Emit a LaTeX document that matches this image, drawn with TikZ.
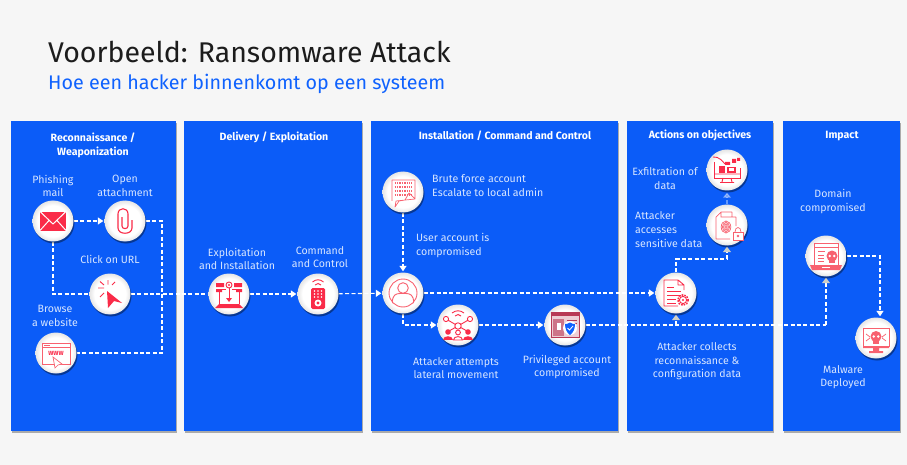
\documentclass[tikz,border=0pt]{standalone}
\usepackage{fontspec}
\setmainfont{Fira Sans}
\usetikzlibrary{arrows.meta,shadows,calc}
\definecolor{pageback}{HTML}{F6F6F6}
\definecolor{panelblue}{HTML}{0B5CF8}
\definecolor{labelblue}{HTML}{D8E6FF}
\definecolor{titleblue}{HTML}{0F62FE}
\definecolor{titleink}{HTML}{1C1C1C}
\definecolor{iconred}{HTML}{FA2B48}
\definecolor{iconpale}{HTML}{F8616F}
\definecolor{icondark}{HTML}{B83A55}
\definecolor{tipgray}{HTML}{CFCFC8}
\pgfdeclarelayer{back}\pgfdeclarelayer{conn}
\pgfsetlayers{back,conn,main}
\pgfdeclareradialshading{discfill}{\pgfpoint{0bp}{0bp}}{color(0bp)=(white);color(19bp)=(white);color(25bp)=(black!10);color(50bp)=(black!10)}
\tikzset{
  x=1pt,y=-1pt,
  panel/.style={fill=panelblue,draw=none,inner sep=0,anchor=north west,drop shadow={shadow xshift=1pt,shadow yshift=-1.5pt,opacity=.3,fill=black}},
  disc/.style={circle,minimum size=41pt,inner sep=0,shading=discfill,drop shadow={shadow xshift=1pt,shadow yshift=-2pt,opacity=.4,fill=black}},
  head/.style={text=white,font=\fontsize{10.55}{14}\selectfont\bfseries,align=center,inner sep=0},
  lab/.style={text=labelblue,font=\fontsize{10.6}{13.6}\selectfont,align=center,inner sep=0},
  labl/.style={lab,align=left,anchor=west},
  flow/.style={white,line width=1.1pt,dash pattern=on 4pt off 2.4pt},
  flowa/.style={flow,-{Triangle[length=5.5pt,width=7pt,fill=white]},shorten >=1pt},
  flowg/.style={flow,-{Triangle[length=5.5pt,width=8pt,color=tipgray,fill=tipgray]},shorten >=1pt},
  flowf/.style={white,opacity=.38,line width=1.1pt,dash pattern=on 4pt off 2.4pt,-{Triangle[length=5pt,width=8pt]},shorten >=2pt,shorten <=0pt},
  ic/.style={iconred,line width=.9pt},
  icp/.style={iconpale,line width=.7pt},
  mailicon/.pic={
    \fill[iconred] (-13,-9.5) rectangle (13,9.5);
    \draw[white,line width=1pt] (-13,-9.5) -- (0,3) -- (13,-9.5) (-13,9.5) -- (-4,-.5) (13,9.5) -- (4,-.5);},
  clipicon/.pic={
    \draw[ic,line width=1.1pt] (7,-1) -- (7,7) .. controls (7,14) and (-7,14) .. (-7,7) -- (-7,-7) .. controls (-7,-14) and (3,-14) .. (3,-7) -- (3,5) .. controls (3,8.5) and (-3,8.5) .. (-3,5) -- (-3,-4);},
  clickicon/.pic={
    \fill[iconred] (-3,-3) -- (12,9) -- (4,7) -- (-2,14) -- cycle;
    \draw[iconred,line width=.9pt] (-12,-6) -- (-6,-6) (-10,-12.5) -- (-6,-9) (-2,-14) -- (-2,-9.5) (5,-12) -- (2,-9) (-10,3) -- (-6,-1);},
  wwwicon/.pic={
    \draw[icp] (-14,-10) rectangle (14,11) (-14,-6) -- (14,-6);
    \draw[icp] (-12,-8) -- (-6,-8);
    \node[iconred,inner sep=0,font=\fontsize{6}{6}\selectfont\bfseries] (wwwtext) at (0,0) {WWW};
    \fill[white] (-3,4) -- (6,11) -- (2,12) -- (-1,15) -- cycle;
    \draw[icp] (-3,4) -- (6,11) -- (2,12) -- (-1,15) -- cycle;},
  exploiticon/.pic={
    \fill[iconred] (-10,10) -- (10,10) -- (14,14) -- (-14,14) -- cycle;
    \draw[ic] (-10,10) -- (-10,-5) -- (-3,-5) (10,10) -- (10,-5) -- (3,-5);
    \draw[ic] (0,-9) circle (3);
    \fill[iconred] (0,-9) circle (1.2);
    \draw[ic] (0,-6) -- (0,5);
    \fill[iconred] (-3,4) -- (3,4) -- (0,8) -- cycle;
    \fill[iconred] (-13,-11) rectangle (-5,-7) (5,-11) rectangle (13,-7);
    \fill[iconred] (-13,-5) rectangle (-7,-2) (7,-5) rectangle (13,-2);},
  remoteicon/.pic={
    \fill[iconred,rounded corners=1.5pt] (-7,-6) rectangle (7,15);
    \foreach \a in {-3.5,0,3.5}{\foreach \b in {-3,0,3}{\fill[white] (\a,\b) circle (.9);}}
    \fill[white] (0,9) circle (3.5);
    \fill[iconred] (0,9) circle (1.6);
    \draw[ic] (-3,-9) .. controls (-1,-11) and (1,-11) .. (3,-9) (-5.5,-12) .. controls (-2,-15) and (2,-15) .. (5.5,-12);},
  bruteicon/.pic={
    \draw[icp,line join=round] (-11,9) -- (-11,-12) -- (12,-12) -- (12,7) (12,7) -- (6,1) -- (2,8) -- (-4,9) -- (-8,15) -- (-7,9) -- cycle;
    \foreach \b in {-9,-5,-1,3}{\draw[iconpale,line width=1.6pt,dash pattern=on 1.4pt off 1pt] (-8.5,\b) -- (9,\b);}},
  usericon/.pic={
    \draw[icp,line width=.9pt] (0,0) circle (14);
    \draw[icp,line width=.9pt] (0,-5) circle (5.3);
    \draw[icp,line width=.9pt] (-10.5,10) .. controls (-11,2) and (-7,0.5) .. (-3,0.5) -- (3,0.5) .. controls (7,0.5) and (11,2) .. (10.5,10);},
  lateralicon/.pic={
    \draw[ic] (-12,-6) -- (0,1) -- (12,-6) (0,1) -- (-9,6) (0,1) -- (9,6);
    \foreach \p in {(-12,-6),(12,-6)}{\draw[ic,fill=white] \p circle (2.6);}
    \draw[ic,fill=white] (0,1) circle (3.2);
    \draw[ic] (-3,-9) .. controls (-1,-11) and (1,-11) .. (3,-9) (-6,-12) .. controls (-2,-15) and (2,-15) .. (6,-12);
    \foreach \a in {-10,10}{\fill[iconred] (\a,7) circle (2.8);
      \fill[iconred] (\a-5,15) .. controls (\a-5,9.5) and (\a+5,9.5) .. (\a+5,15) -- cycle;}
    \draw[ic] (0,7.5) circle (2.4);
    \draw[ic] (-4.5,15) .. controls (-4.5,10.5) and (4.5,10.5) .. (4.5,15) -- cycle;},
  privicon/.pic={
    \fill[icondark!25] (-14,-13) rectangle (14,12);
    \draw[icondark] (-14,-13) rectangle (14,12);
    \fill[icondark] (-14,-13) rectangle (14,-9);
    \fill[icondark!70] (-12,-6) rectangle (-1,11);
    \fill[white] (-8.5,-2) rectangle (-4.5,5);
    \draw[icondark,line width=.8pt] (2,-5) -- (12,-5) (2,-2) -- (12,-2) (2,1) -- (12,1);
    \fill[white] (5,3) circle (7);
    \fill[titleblue] (5,-2.5) .. controls (7,-1) and (9,-1) .. (10,-1) .. controls (10,4) and (8,8) .. (5,10) .. controls (2,8) and (0,4) .. (0,-1) .. controls (1,-1) and (3,-1) .. (5,-2.5) -- cycle;
    \draw[white,line width=.8pt] (2.5,3) -- (4.5,5) -- (8,1);},
  exfilicon/.pic={
    \draw[ic] (-13,-8) -- (-13,8) -- (13,8) -- (13,-2);
    \draw[ic] (-13,4) -- (13,4) (-4,8) -- (-5,12) (4,8) -- (5,12) (-7,12.5) -- (7,12.5);
    \fill[iconred] (-8,-4) rectangle (-2,3);
    \fill[iconred] (0,-3) rectangle (9,3);
    \fill[white] (2,-1.5) rectangle (7,1.5);
    \draw[ic] (-14,-13) .. controls (-8,-14) and (-4,-8) .. (-2,-6);
    \fill[iconred] (-2,-8) rectangle (3,-5) (5,-11) rectangle (9,-7) (10,-12) rectangle (13,-9);},
  accessicon/.pic={
    \draw[icp] (-11,14) -- (-11,-8) -- (-6,-13) -- (5,-13) (5,-13) -- (5,-8) (9,-8) -- (9,1) (-6,-13) -- (-6,-8) -- (9,-8) (-11,14) -- (3,14);
    \foreach \r in {1.5,3,4.5,6}{\draw[icp] (-1,2) ellipse ({\r*.8} and \r);}
    \fill[white] (5,3) rectangle (16,15);
    \draw[icp] (8,7) .. controls (8,1) and (14,1) .. (14,7);
    \draw[icp,fill=white] (6,7) rectangle (16,15);
    \fill[iconpale] (11,11) circle (1.3);},
  configicon/.pic={
    \draw[ic,line join=round] (8,-3) -- (8,-8) -- (2,-13) -- (-12,-13) -- (-12,13) -- (2,13) (2,-13) -- (2,-8) -- (8,-8);
    \draw[ic,line width=.8pt] (-9,-6) -- (-2,-6) (-9,-2) -- (5,-2) (-9,2) -- (5,2) (-9,6) -- (0,6) (-9,10) -- (0,10);
    \draw[iconred,line width=1.6pt,dash pattern=on 1.6pt off 1.2pt] (7,7) circle (5.2);
    \fill[white] (7,7) circle (4.2);
    \draw[ic] (7,7) circle (3.6);
    \fill[iconred] (7,7) circle (1.2);},
  skull/.pic={
    \fill[iconpale] (0,-1) circle (5.5);
    \fill[iconpale] (-3,2) rectangle (3,6);
    \fill[white] (-2.2,-1) circle (1.4) (2.2,-1) circle (1.4);},
  domainicon/.pic={
    \draw[icp,line width=.9pt] (-12,9) -- (-12,-13) -- (12,-13) -- (12,9) (-12,-9) -- (12,-9);
    \fill[iconpale] (-16,9) -- (16,9) -- (14,14) -- (-14,14) -- cycle;
    \fill[white] (-4,10.5) rectangle (4,12);
    \draw[icp,line width=.9pt] (-8,-5) -- (-1,-5) (-8,-1) -- (-2,-1) (-8,2) -- (-2,2) (-8,5) -- (-2,5);
    \pic at (6,1) {skull};},
  malwareicon/.pic={
    \draw[icp,line width=.9pt] (-13,-10) rectangle (13,8);
    \fill[iconpale] (-13,8) rectangle (13,10) (-3,10) rectangle (3,13) (-7,13) rectangle (7,15);
    \draw[icp] (-10,-4) -- (-6,-1) (-10,3) -- (-6,0) (10,-4) -- (6,-1) (10,3) -- (6,0);
    \pic at (0,-.5) {skull};},
}
\newcommand{\panelbox}[5]{\node[panel,minimum width=#4pt,minimum height=#5pt] (#1) at (#2,#3) {};}
\begin{document}
\begin{tikzpicture}
\useasboundingbox (0,0) rectangle (907,465);
\begin{pgfonlayer}{back}
\fill[pageback] (0,0) rectangle (907,465);
\panelbox{p1}{11}{121}{165}{310}
\panelbox{p2}{184}{121}{178}{310}
\panelbox{p3}{371}{121}{247}{310}
\panelbox{p4}{627}{121}{146}{310}
\panelbox{p5}{783}{121}{117}{310}
\end{pgfonlayer}

\node[anchor=west,inner sep=0,text=titleink,font=\fontsize{28.5}{30}\selectfont] (title) at (48,52) {Voorbeeld: Ransomware Attack};
\node[anchor=west,inner sep=0,text=titleblue,font=\fontsize{19.7}{24}\selectfont] (subtitle) at (48,84) {Hoe een hacker binnenkomt op een systeem};

\node[head] (h1) at (93,145) {Reconnaissance /\\Weaponization};
\node[head] (h2) at (274,137) {Delivery / Exploitation};
\node[head] (h3) at (505,136) {Installation / Command and Control};
\node[head] (h4) at (700,135) {Actions on objectives};
\node[head] (h5) at (842,136) {Impact};

\node[disc] (mail) at (53,221) {};
\node[disc] (clip) at (125,221) {};
\node[disc] (click) at (110,294) {};
\node[disc] (browse) at (56,353) {};
\node[disc] (exploit) at (229,294) {};
\node[disc] (command) at (318,294) {};
\node[disc] (user) at (403,293) {};
\node[disc] (brute) at (403,192) {};
\node[disc] (lateral) at (458,325) {};
\node[disc] (priv) at (565,325) {};
\node[disc] (exfil) at (727,170) {};
\node[disc] (access) at (727,225) {};
\node[disc] (config) at (676,293) {};
\node[disc] (domain) at (826,256) {};
\node[disc] (malware) at (876,338) {};

\pic at (mail) {mailicon};
\pic at (clip) {clipicon};
\pic at (click) {clickicon};
\pic at (browse) {wwwicon};
\pic at (exploit) {exploiticon};
\pic at (command) {remoteicon};
\pic at (user) {usericon};
\pic at (brute) {bruteicon};
\pic at (lateral) {lateralicon};
\pic at (priv) {privicon};
\pic at (exfil) {exfilicon};
\pic at (access) {accessicon};
\pic at (config) {configicon};
\pic at (domain) {domainicon};
\pic at (malware) {malwareicon};

\node[lab] (l1) at (53,186) {Phishing\\mail};
\node[lab] (l2) at (125,186) {Open\\attachment};
\node[lab] (l3) at (110,259) {Click on URL};
\node[lab] (l4) at (55,316) {Browse\\a website};
\node[lab] (l5) at (237,259) {Exploitation\\and Installation};
\node[lab] (l6) at (320,257) {Command\\and Control};
\node[labl] (l7) at (432,185.5) {Brute force account\\Escalate to local admin};
\node[labl] (l8) at (416,245.5) {User account is\\compromised};
\node[lab] (l9) at (456,368) {Attacker attempts\\lateral movement};
\node[lab] (l10) at (567,367) {Privileged account\\compromised};
\node[lab] (l11) at (665,178.5) {Exfiltration of\\data};
\node[labl] (l12) at (635,229.5) {Attacker\\accesses\\sensitive data};
\node[lab] (l13) at (697,361.5) {Attacker collects\\reconnaissance \&\\configuration data};
\node[lab] (l14) at (833,201.5) {Domain\\compromised};
\node[lab] (l15) at (843,377) {Malware\\Deployed};

\coordinate (b1) at (mail |- click);
\coordinate (b2) at (162,221);
\coordinate (b3) at (162,353);
\coordinate (b4) at (user |- lateral);
\coordinate (b5) at (domain |- priv);
\coordinate (b6) at (config |- priv);
\coordinate (b7) at (676,259);
\coordinate (b8) at (access |- b7);
\coordinate (b9) at (880,256);

\begin{pgfonlayer}{conn}
\draw[flowa] (mail) -- (clip);
\draw[flow] (mail) -- (b1) -- (click);
\draw[flow] (clip) -- (b2) -- (b3) -- (browse);
\draw[flow] (click) -- (exploit);
\draw[flowa] (exploit) -- (command);
\draw[flowa] (command) -- (user);
\draw[flowa] (brute) -- (user);
\draw[flowa] (user) -- (config);
\draw[flowa] (user.south) -- (b4) -- (lateral);
\draw[flowa] (lateral) -- (priv);
\draw[flowg] (b6) -- (config.south);
\draw[flow] (priv) -- (b5);
\draw[flowg] (b5) -- (domain.south);
\draw[flowg] (config.north) -- (b7) -- (b8) -- (access.south);
\draw[flowf] (access) -- (exfil);
\draw[flowa] (domain.east |- b9) -- (b9) -- (b9 |- malware.north);
\end{pgfonlayer}
\end{tikzpicture}
\end{document}
